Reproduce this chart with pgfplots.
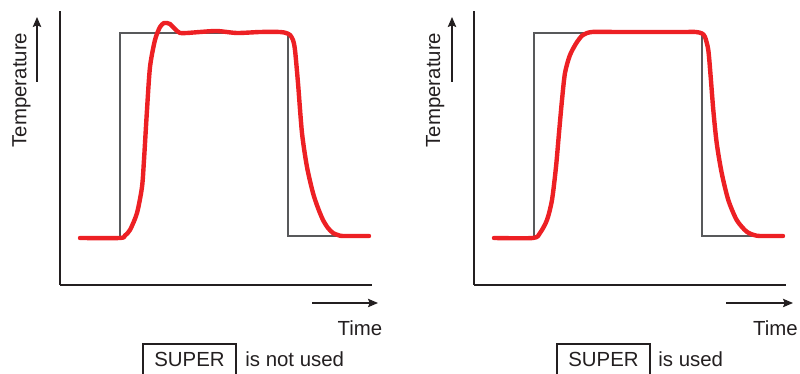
\documentclass[border=0pt]{standalone}
\usepackage{pgfplots}
\pgfplotsset{compat=1.18}
\usepackage{fontspec}
\setmainfont{Liberation Sans}
\usetikzlibrary{arrows.meta}
\definecolor{curvered}{HTML}{ED2024}
\definecolor{axisdark}{HTML}{231F20}
\definecolor{stepgray}{HTML}{58595B}

% response without SUPER (x = time, y = temperature)
\pgfplotstableread{
x y
20 47
60 47
65 49.5
70 55
77 72
82 98
84 125
87 175
90 218
95 245
100 258
104 262
107 262
110 261
113 258
117 254
120 252
127 252
140 253
157 254
177 252
200 253
220 253
226 252
230 250
233 245
235 235
238 202
242 152
247 118
253 92
258 77
263 65
268 57
273 52
278 50
283 49
309 49
}\tabNotUsed

% response with SUPER
\pgfplotstableread{
x y
20 47
59 47
66 52
73 65
78 85
82 118
85 152
88 185
91 212
96 230
103 243
109 250
118 253
143 253
176 253
209 253
222 253
228 251.5
231 248
234.3 235
236.7 208
239.3 175
242.7 142
247.7 112
254.3 85
262.7 65
272.7 53.3
282.7 49.3
295 49
309 49
}\tabUsed

% set point (step)
\pgfplotstableread{
x y
20 47
60 47
60 252
228 252
228 49
309 49
}\tabStep

\pgfplotsset{
  panel/.style={
    scale only axis,
    width=156pt, height=137pt,
    xmin=0, xmax=312, ymin=0, ymax=274,
    axis lines=left,
    axis line style={-, line width=1pt, color=axisdark},
    ticks=none,
    clip=false,
    anchor=south west,
  },
}

\begin{document}
\fontsize{10.2}{12}\selectfont
\begin{tikzpicture}[x=0.5pt, y=0.5pt,
  arr/.style={axisdark, line width=0.55pt, -{Stealth[length=5pt,width=4.2pt,inset=0.8pt]}}]
\path[use as bounding box, clip] (0,0) rectangle (800,374);

\begin{axis}[panel, at={(30pt,44.5pt)}]
  \addplot[stepgray, line width=0.6pt, sharp plot] table[x=x,y=y] {\tabStep};
  \addplot[curvered, line width=2.2pt, smooth, tension=0.45, line cap=round, line join=round] table[x=x,y=y] {\tabNotUsed};
\end{axis}

\begin{axis}[panel, at={(237pt,44.5pt)}]
  \addplot[stepgray, line width=0.6pt, sharp plot] table[x=x,y=y] {\tabStep};
  \addplot[curvered, line width=2.2pt, smooth, tension=0.45, line cap=round, line join=round] table[x=x,y=y] {\tabUsed};
\end{axis}

% left panel labels
\node[rotate=90, anchor=base, inner sep=0pt, text=axisdark] at (26.5,284) {Temperature};
\draw[arr] (37,292) -- (37,357);
\draw[arr] (312,71) -- (378,71);
\node[anchor=base, inner sep=0pt, text=axisdark] at (360,38) {Time};
\draw[axisdark, line width=1pt] (143,-10) -- (143,30) -- (236,30) -- (236,-10);
\node[anchor=base, inner sep=0pt, text=axisdark] at (189.5,7) {SUPER};
\node[anchor=base west, inner sep=0pt, text=axisdark] at (245,7) {is not used};

% right panel labels
\node[rotate=90, anchor=base, inner sep=0pt, text=axisdark] at (440,284) {Temperature};
\draw[arr] (452,292) -- (452,357);
\draw[arr] (726,71) -- (793,71);
\node[anchor=base, inner sep=0pt, text=axisdark] at (775.5,38) {Time};
\draw[axisdark, line width=1pt] (557,-10) -- (557,30) -- (650,30) -- (650,-10);
\node[anchor=base, inner sep=0pt, text=axisdark] at (603.5,7) {SUPER};
\node[anchor=base west, inner sep=0pt, text=axisdark] at (658,7) {is used};
\end{tikzpicture}
\end{document}
